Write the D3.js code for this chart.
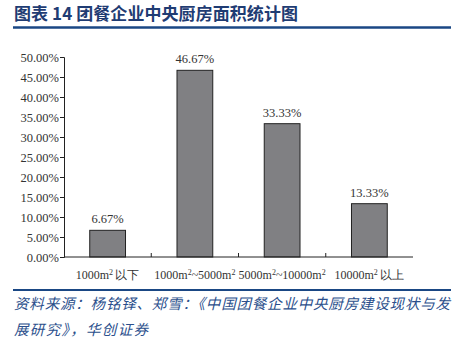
<!DOCTYPE html>
<html><head><meta charset="utf-8">
<script src="https://cdn.jsdelivr.net/npm/d3@7"></script>
<style>body{margin:0;background:#fff;}svg{display:block;}</style>
</head><body>
<script>
const categories = ["1000m² 以下", "1000m²~5000m²", "5000m²~10000m²", "10000m² 以上"];
const values = [6.67, 46.67, 33.33, 13.33];
const yTicks = [0, 5, 10, 15, 20, 25, 30, 35, 40, 45, 50];
const title = "图表 14 团餐企业中央厨房面积统计图";
const sourceLines = ["资料来源：杨铭铎、郑雪：《中国团餐企业中央厨房建设现状与发", "展研究》，华创证券"];

const W = 460, H = 346;
const svg = d3.select("body").append("svg").attr("width", W).attr("height", H);
const navy = "#1f3c73";
const serif = "'Liberation Serif','Times New Roman',serif";
const cjk = "'Noto Sans CJK SC',sans-serif";

svg.append("text").attr("x", 14).attr("y", 20).attr("fill", navy)
  .attr("font-family", cjk).attr("font-weight", "bold").attr("font-size", 17)
  .attr("textLength", 284).attr("lengthAdjust", "spacing")
  .text(title);
svg.append("line").attr("x1", 13).attr("x2", 451).attr("y1", 27.5).attr("y2", 27.5)
  .attr("stroke", "#1a4784").attr("stroke-width", 2.5);

const x = d3.scaleBand().domain(categories).range([64, 413]).paddingInner(0.59).paddingOuter(0.295);
const y = d3.scaleLinear().domain([0, 50]).range([257, 57]);

// bars
svg.selectAll("rect.bar").data(values).enter().append("rect")
  .attr("x", (d, i) => x(categories[i]))
  .attr("width", x.bandwidth())
  .attr("y", d => y(d))
  .attr("height", d => y(0) - y(d))
  .attr("fill", "#808083").attr("stroke", "#222").attr("stroke-width", 1);

svg.selectAll("text.val").data(values).enter().append("text")
  .attr("x", (d, i) => x(categories[i]) + x.bandwidth() / 2)
  .attr("y", d => y(d) - 7)
  .attr("text-anchor", "middle").attr("font-family", serif).attr("font-size", 12.5).attr("fill", "#333")
  .text(d => d.toFixed(2) + "%");

// y axis
const ya = svg.append("g").attr("transform", "translate(64,0)")
  .call(d3.axisLeft(y).tickValues(yTicks).tickSize(4).tickFormat(d => d.toFixed(2) + "%"));
ya.select(".domain").attr("stroke", "#222");
ya.selectAll(".tick line").attr("stroke", "#222");
ya.selectAll("text").attr("font-family", serif).attr("font-size", 12.5).attr("fill", "#333").attr("dx", 2);

// x axis
const xa = svg.append("g").attr("transform", "translate(0,257)");
xa.append("line").attr("x1", 64).attr("x2", 413).attr("stroke", "#222");
const bounds = categories.slice(1).map(c => x(c) - x.step() * x.paddingInner() / 2);
xa.selectAll("line.t").data(bounds).enter().append("line")
  .attr("x1", d => d).attr("x2", d => d).attr("y1", 0).attr("y2", -4).attr("stroke", "#222");
const xl = xa.selectAll("text.cat").data(categories).enter().append("text")
  .attr("x", d => x(d) + x.bandwidth() / 2).attr("y", 22)
  .attr("text-anchor", "middle").attr("font-family", serif).attr("font-size", 12).attr("fill", "#333");
xl.each(function(d) {
  const t = d3.select(this);
  const parts = d.split("²");
  parts.forEach((p, i) => {
    if (p) t.append("tspan").text(p.replace(" ", "\u2009"));
    if (i < parts.length - 1) t.append("tspan").attr("font-size", 8).attr("baseline-shift", "super").text("2");
  });
});

// bottom rule and source
svg.append("line").attr("x1", 13).attr("x2", 451).attr("y1", 290).attr("y2", 290)
  .attr("stroke", "#1a4784").attr("stroke-width", 2);
const srcLen = [436, 134];
sourceLines.forEach((s, i) => {
  svg.append("text").attr("x", 14).attr("y", 309 + i * 26).attr("fill", "#2b4f8c")
    .attr("font-family", cjk).attr("font-style", "italic").attr("font-size", 14.5)
    .attr("textLength", srcLen[i]).attr("lengthAdjust", "spacing")
    .text(s);
});
</script>
</body></html>
